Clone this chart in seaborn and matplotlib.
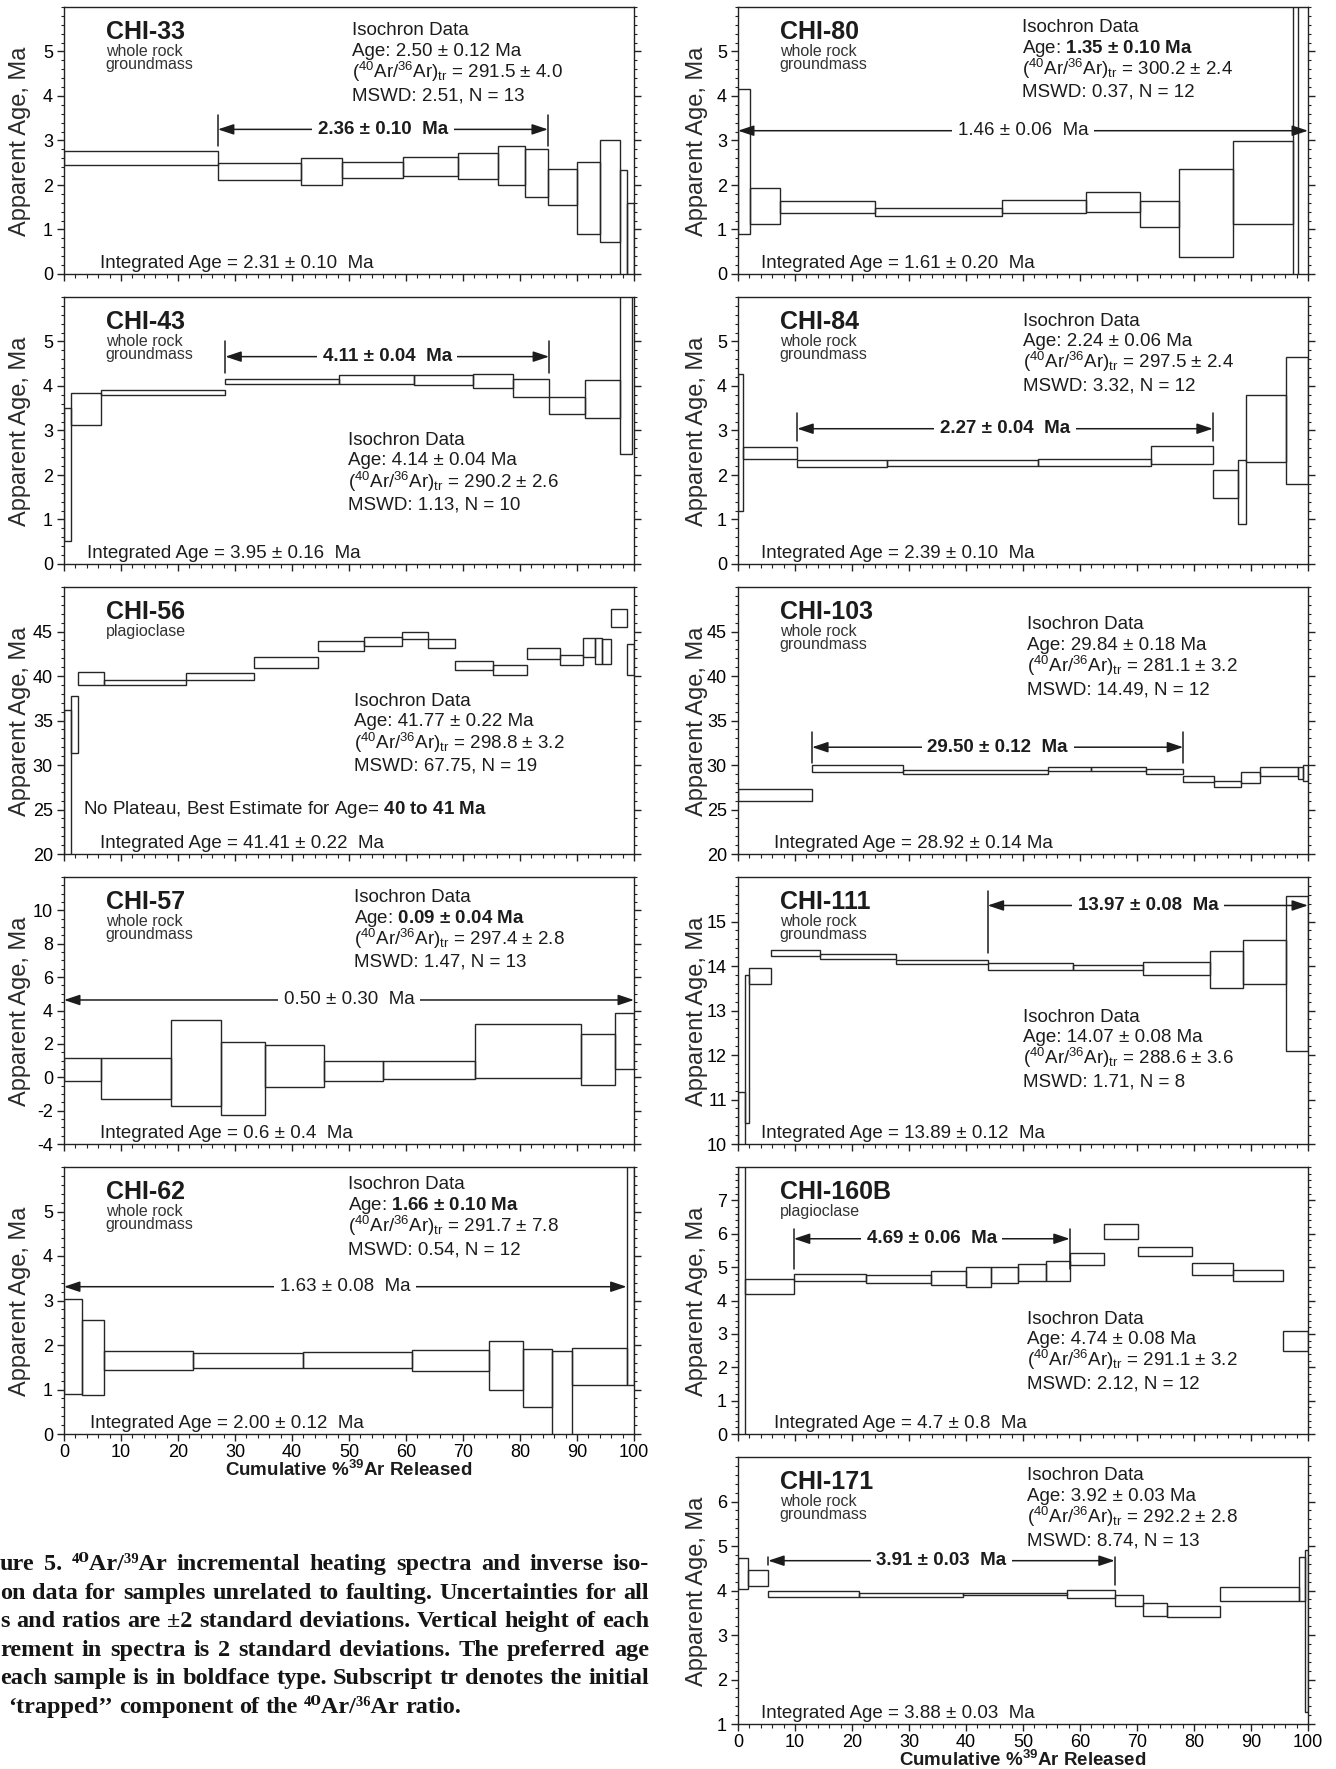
import numpy as np
import matplotlib
matplotlib.use("Agg")
import matplotlib.pyplot as plt
import seaborn as sns
from matplotlib.ticker import MultipleLocator, FixedLocator

# ---------------- data (cumulative %39Ar edges, lower / upper age of each step) ----------------
chi33_edges = [0, 27.0, 41.6, 48.8, 59.5, 69.1, 76.2, 80.9, 84.9, 90.0, 94.1, 97.5, 98.7, 100]
chi33_lo = [2.46, 2.12, 2.01, 2.16, 2.20, 2.13, 1.99, 1.72, 1.56, 0.91, 0.72, -0.5, -0.5]
chi33_hi = [2.76, 2.50, 2.60, 2.52, 2.63, 2.72, 2.87, 2.81, 2.37, 2.52, 3.01, 2.33, 1.59]

chi43_edges = [0, 1.3, 6.5, 28.3, 48.3, 61.4, 71.7, 78.8, 85.1, 91.4, 97.5, 99.6]
chi43_lo = [0.52, 3.13, 3.80, 4.05, 4.04, 4.02, 3.96, 3.75, 3.38, 3.28, 2.48]
chi43_hi = [3.51, 3.84, 3.91, 4.16, 4.24, 4.24, 4.28, 4.16, 3.76, 4.14, 7.0]

chi56_edges = [0, 1.2, 2.5, 7.1, 21.4, 33.3, 44.5, 52.6, 59.3, 63.8, 68.6, 75.2, 81.2, 87.1,
               91.1, 93.1, 94.4, 95.9, 98.7, 100]
chi56_lo = [18, 31.4, 38.96, 38.96, 39.6, 40.9, 42.8, 43.4, 44.2, 43.2, 40.7, 40.1, 41.9, 41.2,
            42.1, 41.3, 41.3, 45.5, 40.1]
chi56_hi = [36.2, 37.8, 40.4, 39.6, 40.3, 42.1, 43.9, 44.4, 44.9, 44.2, 41.7, 41.2, 43.1, 42.4,
            44.3, 44.3, 44.2, 47.5, 43.6]

chi57_edges = [0, 6.5, 18.7, 27.5, 35.3, 45.7, 55.9, 72.1, 90.7, 96.7, 100]
chi57_lo = [-0.25, -1.31, -1.75, -2.29, -0.61, -0.25, -0.12, -0.02, -0.45, 0.50]
chi57_hi = [1.14, 1.14, 3.41, 2.10, 1.92, 0.98, 0.98, 3.21, 2.57, 3.83]

chi62_edges = [0, 3.2, 7.1, 22.7, 42.0, 61.0, 74.6, 80.5, 85.7, 89.2, 98.7, 100]
chi62_lo = [0.90, 0.88, 1.44, 1.48, 1.48, 1.41, 0.99, 0.60, -0.5, 1.11, 1.11]
chi62_hi = [3.04, 2.56, 1.86, 1.81, 1.84, 1.89, 2.08, 1.91, 1.86, 1.93, 9.0]

chi80_edges = [0, 2.1, 7.4, 24.1, 46.4, 61.0, 70.5, 77.3, 86.8, 97.4, 98.2]
chi80_lo = [0.90, 1.13, 1.37, 1.30, 1.37, 1.39, 1.06, 0.39, 1.13, -1]
chi80_hi = [4.16, 1.93, 1.65, 1.49, 1.67, 1.84, 1.65, 2.37, 2.99, 8]

chi84_edges = [0, 0.9, 10.4, 26.1, 52.7, 72.4, 83.3, 87.7, 89.2, 96.2, 100]
chi84_lo = [1.18, 2.37, 2.17, 2.21, 2.21, 2.25, 1.49, 0.91, 2.29, 1.79]
chi84_hi = [4.27, 2.63, 2.34, 2.34, 2.37, 2.65, 2.12, 2.34, 3.79, 4.66]

chi103_edges = [0, 13.0, 28.9, 54.4, 61.9, 71.5, 78.1, 83.5, 88.2, 91.6, 98.3, 99.1, 100]
chi103_lo = [26.0, 29.25, 28.96, 29.3, 29.3, 29.0, 28.1, 27.5, 27.95, 28.8, 28.4, 28.2]
chi103_hi = [27.3, 30.0, 29.4, 29.8, 29.74, 29.5, 28.8, 28.25, 29.25, 29.8, 29.8, 30.0]

chi111_edges = [0, 1.3, 2.0, 5.8, 14.4, 27.8, 43.8, 58.7, 71.0, 82.8, 88.6, 96.2, 100]
chi111_lo = [9.5, 10.47, 13.6, 14.22, 14.16, 14.04, 13.91, 13.91, 13.79, 13.51, 13.59, 12.10]
chi111_hi = [11.16, 13.79, 13.96, 14.37, 14.27, 14.14, 14.07, 14.03, 14.09, 14.34, 14.58, 15.58]

chi160b_edges = [0, 1.3, 9.8, 22.5, 33.9, 40.0, 44.3, 49.2, 54.1, 58.2, 64.2, 70.2, 79.7, 86.9, 95.7, 100]
chi160b_lo = [-1, 4.2, 4.58, 4.53, 4.45, 4.40, 4.53, 4.57, 4.58, 5.05, 5.85, 5.32, 4.77, 4.58, 2.49]
chi160b_hi = [9, 4.63, 4.78, 4.75, 4.88, 5.0, 5.0, 5.1, 5.17, 5.43, 6.28, 5.6, 5.12, 4.92, 3.08]

chi171_edges = [0, 1.7, 5.3, 21.2, 39.4, 57.8, 66.1, 71.0, 75.3, 84.5, 98.5, 99.5, 100]
chi171_lo = [4.04, 4.11, 3.86, 3.86, 3.89, 3.84, 3.66, 3.43, 3.40, 3.76, 3.76, 1.28]
chi171_hi = [4.72, 4.47, 3.99, 3.95, 3.95, 4.00, 3.89, 3.72, 3.66, 4.07, 4.75, 4.92]

sample_names = ["CHI-33", "CHI-43", "CHI-56", "CHI-57", "CHI-62",
                "CHI-80", "CHI-84", "CHI-103", "CHI-111", "CHI-160B", "CHI-171"]
materials = [["whole rock", "groundmass"]] * 2 + [["plagioclase"]] + [["whole rock", "groundmass"]] * 6 \
            + [["plagioclase"]] + [["whole rock", "groundmass"]]
iso_age = ["2.50 ± 0.12 Ma", "4.14 ± 0.04 Ma", "41.77 ± 0.22 Ma", "0.09 ± 0.04 Ma", "1.66 ± 0.10 Ma",
           "1.35 ± 0.10 Ma", "2.24 ± 0.06 Ma", "29.84 ± 0.18 Ma", "14.07 ± 0.08 Ma", "4.74 ± 0.08 Ma",
           "3.92 ± 0.03 Ma"]
iso_age_bold = [False, False, False, True, True, True, False, False, False, False, False]
iso_ratio = ["291.5 ± 4.0", "290.2 ± 2.6", "298.8 ± 3.2", "297.4 ± 2.8", "291.7 ± 7.8",
             "300.2 ± 2.4", "297.5 ± 2.4", "281.1 ± 3.2", "288.6 ± 3.6", "291.1 ± 3.2", "292.2 ± 2.8"]
iso_mswd = ["2.51", "1.13", "67.75", "1.47", "0.54", "0.37", "3.32", "14.49", "1.71", "2.12", "8.74"]
iso_n = ["13", "10", "19", "13", "12", "12", "12", "12", "8", "12", "13"]
integrated = ["2.31 ± 0.10  Ma", "3.95 ± 0.16  Ma", "41.41 ± 0.22  Ma", "0.6 ± 0.4  Ma",
              "2.00 ± 0.12  Ma", "1.61 ± 0.20  Ma", "2.39 ± 0.10  Ma", "28.92 ± 0.14 Ma",
              "13.89 ± 0.12  Ma", "4.7 ± 0.8  Ma", "3.88 ± 0.03  Ma"]
# plateau: start %, end %, age level of arrow, label, bold
plateau_start = [27.0, 28.3, None, 0, 0, 0, 10.4, 13.0, 43.8, 9.8, 5.3]
plateau_end = [84.9, 85.1, None, 100, 98.7, 100, 83.3, 78.1, 100, 58.2, 66.1]
plateau_level = [3.25, 4.66, None, 4.63, 3.31, 3.22, 3.04, 32.0, 15.36, 5.85, 4.67]
plateau_label = ["2.36 ± 0.10  Ma", "4.11 ± 0.04  Ma", None, "0.50 ± 0.30  Ma", "1.63 ± 0.08  Ma",
                 "1.46 ± 0.06  Ma", "2.27 ± 0.04  Ma", "29.50 ± 0.12  Ma", "13.97 ± 0.08  Ma",
                 "4.69 ± 0.06  Ma", "3.91 ± 0.03  Ma"]
plateau_bold = [True, True, None, False, False, False, True, True, True, True, True]
plateau_bar_left = [(2.87, 3.58), (4.29, 5.0), None, None, None, None, (2.76, 3.4), (30.2, 33.7),
                    (14.29, 15.69), (4.95, 6.15), (4.58, 4.75)]
plateau_bar_right = [(2.87, 3.58), (4.29, 5.0), None, None, None, None, (2.76, 3.4), (30.2, 33.7),
                     None, (4.95, 6.15), (4.13, 4.75)]
y_limits = [(0, 6), (0, 6), (20, 50), (-4, 12), (0, 6), (0, 6), (0, 6), (20, 50), (10, 16), (0, 8), (1, 7)]
y_major = [1, 1, 5, 2, 1, 1, 1, 5, 1, 1, 1]
y_minor = [0.2, 0.2, 1, 0.5, 0.2, 0.2, 0.2, 1, 0.2, 0.2, 0.2]

step_edges = [chi33_edges, chi43_edges, chi56_edges, chi57_edges, chi62_edges, chi80_edges,
              chi84_edges, chi103_edges, chi111_edges, chi160b_edges, chi171_edges]
step_lo = [chi33_lo, chi43_lo, chi56_lo, chi57_lo, chi62_lo, chi80_lo,
           chi84_lo, chi103_lo, chi111_lo, chi160b_lo, chi171_lo]
step_hi = [chi33_hi, chi43_hi, chi56_hi, chi57_hi, chi62_hi, chi80_hi,
           chi84_hi, chi103_hi, chi111_hi, chi160b_hi, chi171_hi]

caption_lines = [
    "ure 5. \u2074\u2070Ar/\u00b3\u2079Ar incremental heating spectra and inverse iso-",
    "on data for samples unrelated to faulting. Uncertainties for all",
    "s and ratios are \u00b12 standard deviations. Vertical height of each",
    "rement in spectra is 2 standard deviations. The preferred age",
    "each sample is in boldface type. Subscript tr denotes the initial",
    "\u2018trapped\u2019\u2019 component of the \u2074\u2070Ar/\u00b3\u2076Ar ratio.",
]

# ---------------- layout (positions / styles) ----------------
grid_pos = [(0, 0), (0, 1), (0, 2), (0, 3), (0, 4), (1, 0), (1, 1), (1, 2), (1, 3), (1, 4), (1, 5)]
iso_xy = [(0.505, 0.921), (0.498, 0.473), (0.508, 0.582), (0.508, 0.933), (0.498, 0.944),
          (0.4985, 0.933), (0.50, 0.920), (0.507, 0.868), (0.50, 0.485), (0.507, 0.44), (0.507, 0.939)]
integ_x = [0.063, 0.041, 0.063, 0.063, 0.045, 0.040, 0.041, 0.064, 0.041, 0.064, 0.041]

sns.set_style("ticks")
plt.rcParams["font.family"] = ["Liberation Sans", "DejaVu Sans"]
plt.rcParams["mathtext.fontset"] = "custom"
plt.rcParams["mathtext.rm"] = "Liberation Sans"
plt.rcParams["mathtext.it"] = "Liberation Sans:italic"
plt.rcParams["mathtext.bf"] = "Liberation Sans:bold"
plt.rcParams["axes.edgecolor"] = "#222222"
plt.rcParams["axes.linewidth"] = 1.0
plt.rcParams["axes.unicode_minus"] = False
plt.rcParams["xtick.color"] = "#222222"
plt.rcParams["ytick.color"] = "#222222"

TXT = "#1c1c1c"
LINE = "#262626"
W, H = 1336, 1769
fig = plt.figure(figsize=(W / 100, H / 100), dpi=100)


def bold_math(s):
    return r"$\mathbf{" + s.replace(" ", r"\ ") + "}$"


for i, name in enumerate(sample_names):
    col, row = grid_pos[i]
    x0 = 64 if col == 0 else 738
    bottom = 274 + 290 * row
    ax = fig.add_axes([x0 / W, 1 - bottom / H, 570 / W, 267 / H])
    ed = np.array(step_edges[i], float)
    lo = np.array(step_lo[i], float)
    hi = np.array(step_hi[i], float)
    ax.bar(ed[:-1], hi - lo, width=np.diff(ed), bottom=lo, align="edge", fill=False,
           edgecolor=LINE, linewidth=1.0)
    ymin, ymax = y_limits[i]
    ax.set_xlim(0, 100)
    ax.set_ylim(ymin, ymax)
    ax.yaxis.set_major_locator(FixedLocator(np.arange(ymin, ymax - 1e-9, y_major[i])))
    ax.yaxis.set_minor_locator(MultipleLocator(y_minor[i]))
    ax.xaxis.set_major_locator(MultipleLocator(10))
    ax.xaxis.set_minor_locator(MultipleLocator(2))
    ax.tick_params(axis="y", which="both", direction="out", left=True, right=True,
                   labelleft=True, labelright=False, labelsize=13, labelcolor="black", pad=3)
    ax.tick_params(axis="y", which="major", length=5, width=1)
    ax.tick_params(axis="y", which="minor", length=2.5, width=0.8)
    ax.tick_params(axis="x", which="both", direction="out", bottom=True, top=False,
                   labelsize=13, labelcolor="black", pad=2)
    ax.tick_params(axis="x", which="major", length=5, width=1)
    ax.tick_params(axis="x", which="minor", length=3, width=0.8)
    last = (col == 0 and row == 4) or (col == 1 and row == 5)
    if last:
        fig.text((x0 + 285) / W, 1 - (bottom + 36) / H,
                 r"Cumulative %$^{\mathbf{39}}$Ar Released", fontsize=13.5,
                 fontweight="bold", color=TXT, ha="center", va="center")
    else:
        ax.tick_params(axis="x", labelbottom=False)
    for sp in ax.spines.values():
        sp.set_visible(True)

    # y label
    fig.text((20 if col == 0 else 697) / W, 1 - (bottom - 133) / H, "Apparent Age, Ma",
             rotation=90, ha="center", va="center", fontsize=17, color="#2a2a2a")

    # sample name and material
    ax.text(0.073, 0.905, name, transform=ax.transAxes, fontsize=18, fontweight="bold",
            color=TXT, ha="left", va="center")
    for k, m in enumerate(materials[i]):
        ax.text(0.073, 0.833 - 0.048 * k, m, transform=ax.transAxes, fontsize=11.5,
                color="#333333", ha="left", va="center")

    # isochron block
    ix, iy = iso_xy[i]
    age_txt = ("Age: " + bold_math(iso_age[i])) if iso_age_bold[i] else ("Age: " + iso_age[i])
    lines = ["Isochron Data", age_txt,
             r"($^{40}$Ar/$^{36}$Ar)$_{\mathrm{tr}}$ = " + iso_ratio[i],
             "MSWD: " + iso_mswd[i] + ", N = " + iso_n[i]]
    for off, s in zip([0, 0.077, 0.16, 0.243], lines):
        ax.text(ix, iy - off - 0.027, s, transform=ax.transAxes, fontsize=13.5, color=TXT,
                ha="left", va="baseline")

    # integrated age
    ax.text(integ_x[i], 0.022, "Integrated Age = " + integrated[i], transform=ax.transAxes,
            fontsize=13.5, color=TXT, ha="left", va="baseline")

    # plateau
    if plateau_label[i] is not None:
        ps, pe, py = plateau_start[i], plateau_end[i], plateau_level[i]
        ax.annotate("", xy=(pe, py), xytext=(ps, py), annotation_clip=False,
                    arrowprops=dict(arrowstyle="<|-|>,head_length=0.6,head_width=0.2",
                                    color=TXT, lw=1.1, shrinkA=0, shrinkB=0, mutation_scale=16))
        ax.text((ps + pe) / 2, py, plateau_label[i], fontsize=13.5,
                fontweight="bold" if plateau_bold[i] else "normal", color=TXT,
                ha="center", va="center", zorder=6,
                bbox=dict(facecolor="white", edgecolor="none", pad=4))
        if plateau_bar_left[i] is not None:
            ax.plot([ps, ps], plateau_bar_left[i], color=TXT, lw=1.1)
        if plateau_bar_right[i] is not None:
            ax.plot([pe, pe], plateau_bar_right[i], color=TXT, lw=1.1)
    else:
        ax.text(0.033, 0.15, "No Plateau, Best Estimate for Age= " + bold_math("40 to 41 Ma"),
                transform=ax.transAxes, fontsize=13.5, color=TXT, ha="left", va="baseline")

# ---------------- caption (justified, serif bold) ----------------
fig.canvas.draw()
renderer = fig.canvas.get_renderer()
cap_fs = 17.5
cap_right = 649
cap_x0 = [0, 0, 0, 0, 0, 8]


def measure(fs):
    out = []
    for line in caption_lines:
        ws = []
        for w in line.split(" "):
            t = fig.text(0, 0, w, fontsize=fs, fontweight="bold",
                         family=["Liberation Serif", "DejaVu Serif"])
            ws.append(t.get_window_extent(renderer).width)
            t.remove()
        out.append(ws)
    return out


while True:
    widths_all = measure(cap_fs)
    ok = all(cap_x0[li] + sum(ws) + 0.18 * cap_fs * 100 / 72 * (len(ws) - 1) <= cap_right
             for li, ws in enumerate(widths_all[:-1]))
    if ok or cap_fs < 12:
        break
    cap_fs -= 0.25

for li, line in enumerate(caption_lines):
    yb = 1564 + 28.5 * li + 6
    words = line.split(" ")
    widths = widths_all[li]
    if li < len(caption_lines) - 1:
        gap = (cap_right - cap_x0[li] - sum(widths)) / (len(words) - 1)
    else:
        gap = 0.25 * cap_fs * 100 / 72
    x = cap_x0[li]
    for w, wd in zip(words, widths):
        fig.text(x / W, 1 - yb / H, w, fontsize=cap_fs, fontweight="bold",
                 family=["Liberation Serif", "DejaVu Serif"], color="#151515",
                 ha="left", va="baseline")
        x += wd + gap

fig.savefig("out.png", dpi=100)
